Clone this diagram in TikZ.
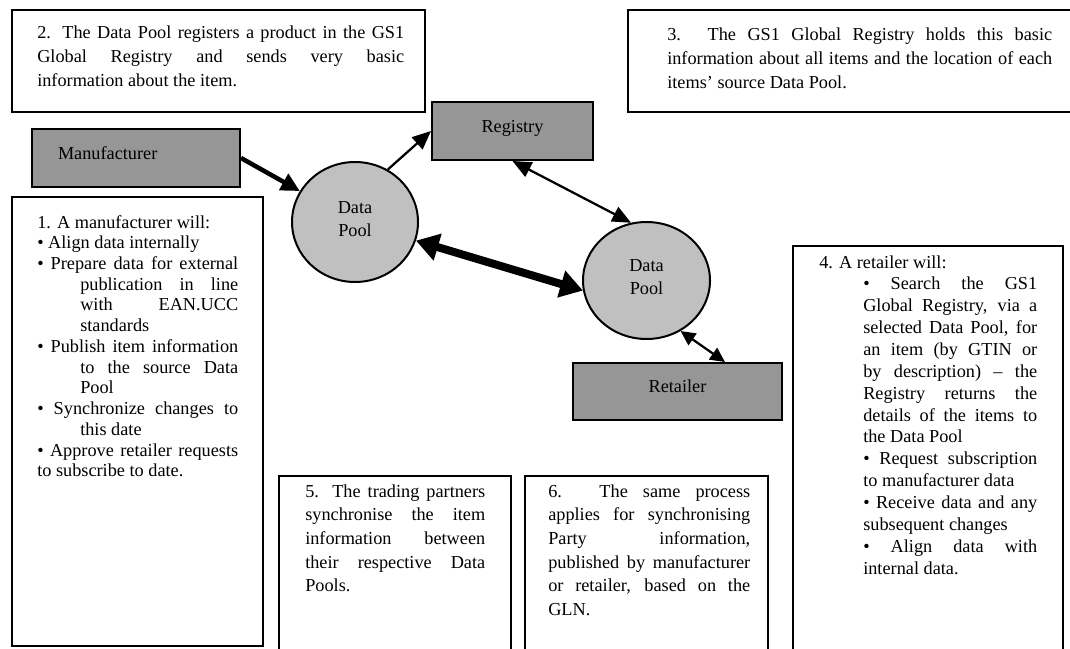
\documentclass[tikz,border=0pt]{standalone}
\usepackage{fontspec}
\setmainfont{Liberation Serif}
\usepackage{xcolor}
\usetikzlibrary{arrows,arrows.meta,shapes,positioning,fit,backgrounds,calc}
\definecolor{boxgrey}{RGB}{150, 150, 150}
\definecolor{poolgrey}{RGB}{192, 192, 192}
\tolerance=10000
\hbadness=10000
\newcommand{\notesize}[1]{\fontsize{13.7pt}{#1}\selectfont}
\tikzset{
  frame/.style={draw, line width=1.8pt, inner sep=0pt},
  note/.style={anchor=base west, inner sep=0pt, align=justify},
  actor/.style={draw, line width=1.5pt, fill=boxgrey, inner sep=0pt, text height=9pt, text depth=7pt, font=\notesize{16pt}},
  pool/.style={ellipse, draw, line width=1.5pt, fill=poolgrey, inner sep=0pt, align=center, font=\notesize{17.25pt}},
  thinlink/.style={line width=1.7pt},
}
\begin{document}
\begin{tikzpicture}[x=0.75pt, y=-0.75pt]
            \useasboundingbox (0,0) rectangle (1070,649);
            \clip (0,0) rectangle (1070,649);
            \fill[white] (0,0) rectangle (1070,649);

            % Text frames
            \node[frame, fit={(12,10) (425,112)}] (box2) {};
            \node[frame, fit={(628,10) (1080,112)}] (box3) {};
            \node[frame, fit={(12,197) (263,646)}] (box1) {};
            \node[frame, fit={(793,246) (1063,660)}] (box4) {};
            \node[frame, fit={(279,476) (511,660)}] (box5) {};
            \node[frame, fit={(525,476) (768,660)}] (box6) {};

            % Notes
            \node[note, text width=275.25pt, font=\notesize{18pt}] (note2) at (37,39)
                {2. The Data Pool registers a product in the GS1\linebreak Global Registry and sends very basic\linebreak information about the item.};
            \node[note, text width=288.75pt, font=\notesize{18pt}] (note3) at (667,41)
                {3. The GS1 Global Registry holds this basic\linebreak information about all items and the location of each\linebreak items’ source Data Pool.};
            \node[note, text width=150.75pt, font=\notesize{15.56pt}] (note1) at (37,228)
                {1. A manufacturer will:\par
                 • Align data internally\par
                 \hangindent=32.25pt\hangafter=1 • Prepare data for external\linebreak publication in line\linebreak with EAN.UCC\linebreak standards\par
                 \hangindent=32.25pt\hangafter=1 • Publish item information\linebreak to the source Data\linebreak Pool\par
                 \hangindent=32.25pt\hangafter=1 • Synchronize changes to\linebreak this date\par
                 • Approve retailer requests\linebreak to subscribe to date.\par};
            \node[note, text width=163.5pt, font=\notesize{16.4pt}] (note4) at (819,268)
                {4. A retailer will:\par
                 \leftskip=33pt • Search the GS1\linebreak Global Registry, via a\linebreak selected Data Pool, for\linebreak an item (by GTIN or\linebreak by description) – the\linebreak Registry returns the\linebreak details of the items to\linebreak the Data Pool\par
                 • Request subscription\linebreak to manufacturer data\par
                 • Receive data and any\linebreak subsequent changes\par
                 • Align data with\linebreak internal data.\par};
            \node[note, text width=135pt, font=\notesize{17.8pt}] (note5) at (305,497)
                {5. The trading partners\linebreak synchronise the item\linebreak information between\linebreak their respective Data\linebreak Pools.};
            \node[note, text width=151.5pt, font=\notesize{17.8pt}] (note6) at (548,497)
                {6. The same process\linebreak applies for synchronising\linebreak Party information,\linebreak published by manufacturer\linebreak or retailer, based on the\linebreak GLN.};

            % Parties
            \node[actor, minimum width=156pt, minimum height=43.5pt, text width=117pt, align=left] (man) at (136,158) {Manufacturer};
            \node[actor, minimum width=120.75pt, minimum height=43.5pt] (reg) at (512.5,131) {Registry};
            \node[actor, minimum width=156.75pt, minimum height=42.75pt] (ret) at (677.5,391.5) {Retailer};

            % Data pools
            \node[pool, minimum width=94.5pt, minimum height=90pt] (dp1) at (355,222) {Data\\Pool\strut};
            \node[pool, minimum width=95.25pt, minimum height=87.75pt] (dp2) at (646.5,280.5) {Data\\Pool\strut};

            % Arrows
            \draw[line width=3.4pt, -{Triangle[length=14pt,width=13.5pt]}] (man.east) -- (dp1);
            \draw[thinlink, -{Triangle[length=14pt,width=12pt]}] (dp1.58) -- (reg.west);
            \draw[thinlink, {Triangle[length=14pt,width=12pt]}-{Triangle[length=14pt,width=12pt]}] (reg.south) -- (dp2.105);
            \draw[line width=6pt, {Triangle[length=17pt,width=20pt]}-{Triangle[length=17pt,width=20pt]}] (dp1.-17) -- (dp2.189);
            \draw[thinlink, {Triangle[length=11pt,width=10.5pt]}-{Triangle[length=11pt,width=10.5pt]}] (dp2.-56) -- ($(ret.north)!0.45!(ret.north east)$);
\end{tikzpicture}
\end{document}
